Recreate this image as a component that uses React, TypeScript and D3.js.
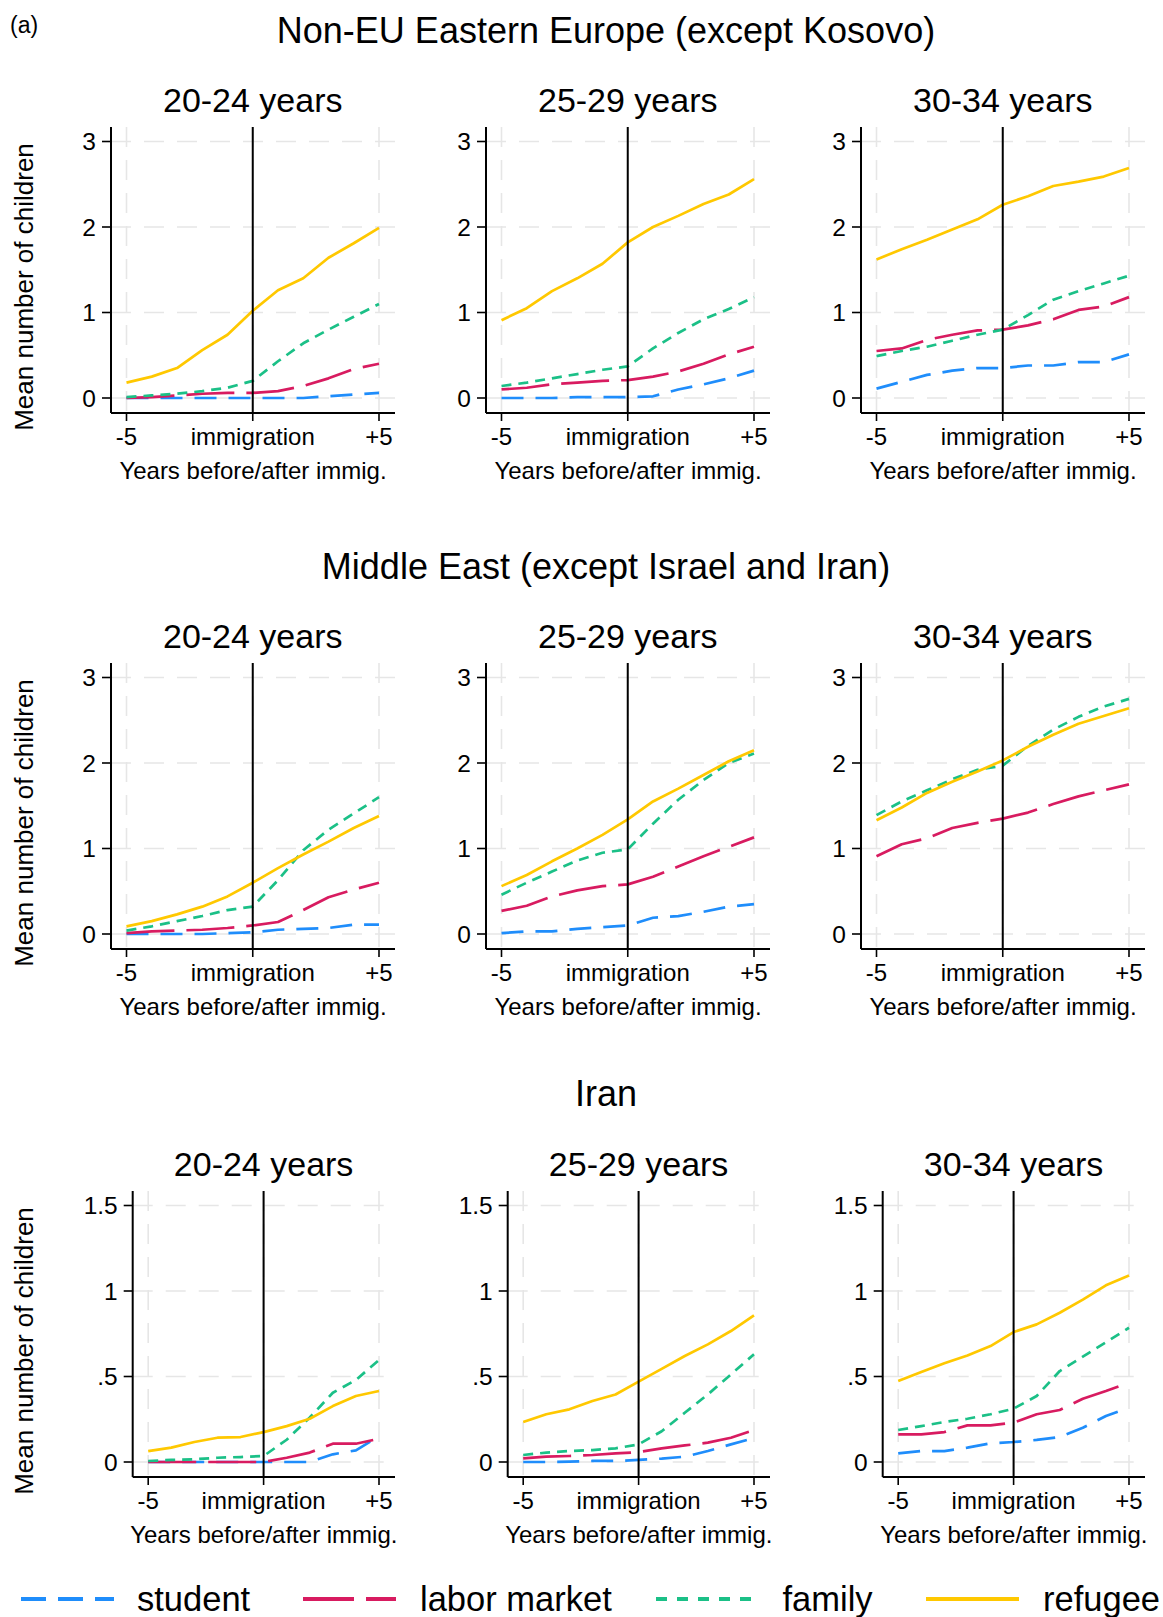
import React from "react";
import * as d3 from "d3";

// Event time relative to the year of immigration
const years = [-5, -4, -3, -2, -1, 0, 1, 2, 3, 4, 5];
const xTickValues = [-5, 0, 5];
const xTickLabels = ["-5", "immigration", "+5"];

const regionTitles = [
  "Non-EU Eastern Europe (except Kosovo)",
  "Middle East (except Israel and Iran)",
  "Iran",
];
const ageGroups = ["20-24 years", "25-29 years", "30-34 years"];
const seriesNames = ["student", "labor market", "family", "refugee"];

const yTicksLarge = [0, 1, 2, 3];
const yLabelsLarge = ["0", "1", "2", "3"];
const yTicksSmall = [0, 0.5, 1, 1.5];
const yLabelsSmall = ["0", ".5", "1", "1.5"];

// Non-EU Eastern Europe
const ee2024Student = [0, 0, 0, 0, 0, 0, 0, 0, 0.02, 0.04, 0.06];
const ee2024Labor = [0, 0.01, 0.03, 0.05, 0.06, 0.06, 0.08, 0.14, 0.23, 0.34, 0.4];
const ee2024Family = [0.01, 0.03, 0.05, 0.08, 0.12, 0.2, 0.43, 0.64, 0.8, 0.95, 1.1];
const ee2024Refugee = [0.18, 0.25, 0.35, 0.56, 0.74, 1.02, 1.26, 1.4, 1.64, 1.81, 1.99];

const ee2529Student = [0, 0, 0, 0.01, 0.01, 0.01, 0.02, 0.1, 0.16, 0.23, 0.32];
const ee2529Labor = [0.1, 0.12, 0.16, 0.18, 0.2, 0.21, 0.25, 0.31, 0.4, 0.51, 0.6];
const ee2529Family = [0.14, 0.18, 0.23, 0.28, 0.33, 0.37, 0.58, 0.76, 0.92, 1.04, 1.18];
const ee2529Refugee = [0.91, 1.05, 1.25, 1.4, 1.57, 1.82, 2.0, 2.13, 2.27, 2.38, 2.56];

const ee3034Student = [0.11, 0.19, 0.27, 0.32, 0.35, 0.35, 0.38, 0.38, 0.42, 0.42, 0.51];
const ee3034Labor = [0.55, 0.58, 0.68, 0.74, 0.79, 0.8, 0.85, 0.92, 1.03, 1.07, 1.18];
const ee3034Family = [0.49, 0.55, 0.6, 0.67, 0.74, 0.8, 0.97, 1.15, 1.25, 1.34, 1.43];
const ee3034Refugee = [1.62, 1.74, 1.85, 1.97, 2.09, 2.26, 2.36, 2.48, 2.53, 2.59, 2.69];

// Middle East
const me2024Student = [0, 0, 0, 0, 0.01, 0.02, 0.05, 0.06, 0.07, 0.11, 0.11];
const me2024Labor = [0.01, 0.03, 0.04, 0.05, 0.07, 0.1, 0.14, 0.28, 0.43, 0.52, 0.6];
const me2024Family = [0.04, 0.09, 0.15, 0.21, 0.28, 0.32, 0.63, 0.98, 1.22, 1.41, 1.6];
const me2024Refugee = [0.09, 0.15, 0.23, 0.32, 0.44, 0.6, 0.77, 0.93, 1.08, 1.24, 1.38];

const me2529Student = [0.01, 0.03, 0.03, 0.06, 0.08, 0.1, 0.19, 0.21, 0.26, 0.32, 0.35];
const me2529Labor = [0.27, 0.33, 0.44, 0.51, 0.56, 0.58, 0.67, 0.79, 0.91, 1.02, 1.13];
const me2529Family = [0.46, 0.6, 0.73, 0.86, 0.95, 0.99, 1.29, 1.57, 1.8, 2.0, 2.11];
const me2529Refugee = [0.56, 0.69, 0.85, 1.0, 1.16, 1.34, 1.55, 1.7, 1.86, 2.02, 2.15];

const me3034Student: number[] = [];
const me3034Labor = [0.91, 1.05, 1.12, 1.24, 1.3, 1.35, 1.42, 1.52, 1.61, 1.68, 1.75];
const me3034Family = [1.39, 1.55, 1.68, 1.81, 1.92, 1.97, 2.2, 2.39, 2.54, 2.66, 2.75];
const me3034Refugee = [1.33, 1.48, 1.65, 1.78, 1.9, 2.03, 2.19, 2.33, 2.46, 2.55, 2.64];

// Iran
const ir2024Student = [0, 0, 0, 0, 0, 0, 0, 0, 0.045, 0.068, 0.15];
const ir2024Labor = [0, 0, 0, 0, 0, 0, 0.025, 0.055, 0.107, 0.107, 0.136];
const ir2024Family = [0.006, 0.012, 0.016, 0.025, 0.029, 0.035, 0.13, 0.26, 0.405, 0.48, 0.596];
const ir2024Refugee = [0.064, 0.084, 0.117, 0.142, 0.146, 0.175, 0.21, 0.253, 0.327, 0.386, 0.415];

const ir2529Student = [0, 0, 0.002, 0.006, 0.006, 0.012, 0.02, 0.031, 0.064, 0.103, 0.14];
const ir2529Labor = [0.021, 0.031, 0.035, 0.041, 0.05, 0.058, 0.08, 0.097, 0.113, 0.142, 0.187];
const ir2529Family = [0.041, 0.055, 0.064, 0.07, 0.08, 0.103, 0.18, 0.288, 0.395, 0.512, 0.63];
const ir2529Refugee = [0.234, 0.279, 0.308, 0.357, 0.395, 0.47, 0.545, 0.62, 0.688, 0.766, 0.857];

const ir3034Student = [0.05, 0.064, 0.064, 0.084, 0.109, 0.117, 0.129, 0.146, 0.2, 0.269, 0.318];
const ir3034Labor = [0.162, 0.162, 0.175, 0.214, 0.214, 0.23, 0.279, 0.304, 0.37, 0.415, 0.464];
const ir3034Family = [0.187, 0.21, 0.234, 0.253, 0.279, 0.312, 0.386, 0.532, 0.616, 0.7, 0.785];
const ir3034Refugee = [0.473, 0.526, 0.577, 0.623, 0.678, 0.76, 0.805, 0.873, 0.95, 1.033, 1.09];

const panelData: number[][][][] = [
  [
    [ee2024Student, ee2024Labor, ee2024Family, ee2024Refugee],
    [ee2529Student, ee2529Labor, ee2529Family, ee2529Refugee],
    [ee3034Student, ee3034Labor, ee3034Family, ee3034Refugee],
  ],
  [
    [me2024Student, me2024Labor, me2024Family, me2024Refugee],
    [me2529Student, me2529Labor, me2529Family, me2529Refugee],
    [me3034Student, me3034Labor, me3034Family, me3034Refugee],
  ],
  [
    [ir2024Student, ir2024Labor, ir2024Family, ir2024Refugee],
    [ir2529Student, ir2529Labor, ir2529Family, ir2529Refugee],
    [ir3034Student, ir3034Labor, ir3034Family, ir3034Refugee],
  ],
];

const FONT = "'Liberation Sans', Arial, Helvetica, sans-serif";
const COLORS = ["#1F8DFB", "#D81B60", "#1BC087", "#FFC800"];
const DASHES = ["22,12", "48,12", "10,7", null];
const LEGEND_DASHES = ["25,12", "51,12", "11,10", null];

const W = 1163;
const H = 1617;
const rowTop = [127, 663, 1191];
const rowAxisX = [111, 111, 132.7];
const colStep = 375;
const plotRight0 = 395;
const plotH = 286;
const sectionBaseline = [43, 579, 1106];
const panelTitleBaseline = [112, 648, 1176];

function Panel({ row, col }: { row: number; col: number }) {
  const axisX = rowAxisX[row] + col * colStep;
  const right = plotRight0 + col * colStep;
  const top = rowTop[row];
  const bottom = top + plotH;
  const small = row === 2;
  const yTicks = small ? yTicksSmall : yTicksLarge;
  const yLabels = small ? yLabelsSmall : yLabelsLarge;
  const yMax = small ? 1.5 : 3;

  const x = d3.scaleLinear().domain([-5, 5]).range([axisX + 15.5, right - 16]);
  const y = d3.scaleLinear().domain([0, yMax]).range([bottom - 15, top + 14.5]);
  const line = d3
    .line<number>()
    .x((_, i) => x(years[i]))
    .y((v) => y(v));

  const series = panelData[row][col];
  const cx = (axisX + right) / 2;

  return (
    <g>
      <text
        x={x(0)}
        y={panelTitleBaseline[row]}
        textAnchor="middle"
        fontSize={34}
        fontFamily={FONT}
        fill="#000"
      >
        {ageGroups[col]}
      </text>
      {/* grid */}
      {yTicks.map((t) => (
        <line
          key={"gy" + t}
          x1={axisX}
          x2={right}
          y1={y(t)}
          y2={y(t)}
          stroke="#e6e6e6"
          strokeWidth={1.6}
          strokeDasharray="20,13"
        />
      ))}
      {xTickValues.map((t) => (
        <line
          key={"gx" + t}
          x1={x(t)}
          x2={x(t)}
          y1={top}
          y2={bottom}
          stroke="#e6e6e6"
          strokeWidth={1.6}
          strokeDasharray="20,13"
        />
      ))}
      {/* series */}
      {series.map((vals, i) =>
        vals.length ? (
          <path
            key={"s" + i}
            d={line(vals) || ""}
            fill="none"
            stroke={COLORS[i]}
            strokeWidth={2.7}
            strokeDasharray={DASHES[i] || undefined}
            strokeLinejoin="round"
          />
        ) : null
      )}
      {/* immigration marker */}
      <line x1={x(0)} x2={x(0)} y1={top} y2={bottom} stroke="#000" strokeWidth={2} />
      {/* axes */}
      <line x1={axisX} x2={axisX} y1={top} y2={bottom} stroke="#000" strokeWidth={2} />
      <line x1={axisX} x2={right} y1={bottom} y2={bottom} stroke="#000" strokeWidth={2} />
      {yTicks.map((t, i) => (
        <g key={"yt" + t}>
          <line x1={axisX - 9} x2={axisX} y1={y(t)} y2={y(t)} stroke="#000" strokeWidth={1.6} />
          <text
            x={axisX - 15}
            y={y(t)}
            dy="0.36em"
            textAnchor="end"
            fontSize={24.5}
            fontFamily={FONT}
            fill="#000"
          >
            {yLabels[i]}
          </text>
        </g>
      ))}
      {xTickValues.map((t, i) => (
        <g key={"xt" + t}>
          <line x1={x(t)} x2={x(t)} y1={bottom} y2={bottom + 8} stroke="#000" strokeWidth={1.6} />
          <text
            x={x(t)}
            y={bottom + 32}
            textAnchor="middle"
            fontSize={24}
            fontFamily={FONT}
            fill="#000"
          >
            {xTickLabels[i]}
          </text>
        </g>
      ))}
      <text
        x={cx}
        y={bottom + 66}
        textAnchor="middle"
        fontSize={24}
        fontFamily={FONT}
        fill="#000"
      >
        Years before/after immig.
      </text>
      {col === 0 && (
        <text
          transform={`translate(33,${top + plotH / 2 + 17}) rotate(-90)`}
          textAnchor="middle"
          fontSize={26}
          fontFamily={FONT}
          fill="#000"
        >
          Mean number of children
        </text>
      )}
    </g>
  );
}

const legendLineX = [21, 303, 656, 926];
const legendLineLen = [93, 93, 95, 93];
const legendTextX = [137, 420, 782.5, 1043];

export default function App() {
  return (
    <svg
      width={W}
      height={H}
      style={{ position: "absolute", left: 0, top: 0, background: "#fff" }}
    >
      <rect x={0} y={0} width={W} height={H} fill="#fff" />
      <text x={10} y={33} fontSize={23} fontFamily={FONT} fill="#000">
        (a)
      </text>
      {regionTitles.map((t, r) => (
        <text
          key={t}
          x={606}
          y={sectionBaseline[r]}
          textAnchor="middle"
          fontSize={36}
          fontFamily={FONT}
          fill="#000"
        >
          {t}
        </text>
      ))}
      {[0, 1, 2].map((r) =>
        [0, 1, 2].map((c) => <Panel key={r + "-" + c} row={r} col={c} />)
      )}
      {seriesNames.map((name, i) => (
        <g key={name}>
          <line
            x1={legendLineX[i]}
            x2={legendLineX[i] + legendLineLen[i]}
            y1={1599}
            y2={1599}
            stroke={COLORS[i]}
            strokeWidth={3.8}
            strokeDasharray={LEGEND_DASHES[i] || undefined}
          />
          <text x={legendTextX[i]} y={1611} fontSize={34.5} fontFamily={FONT} fill="#000">
            {name}
          </text>
        </g>
      ))}
    </svg>
  );
}
